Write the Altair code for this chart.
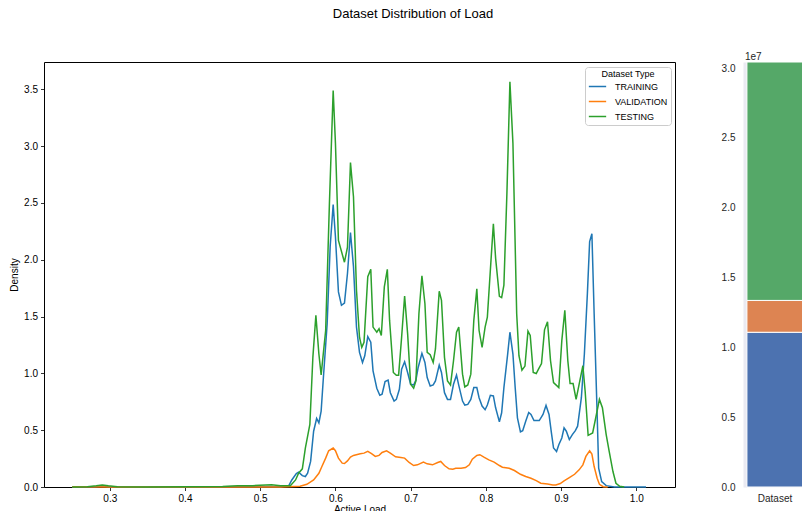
import altair as alt
import pandas as pd

# ---- data -------------------------------------------------------------
splits = ["TRAINING", "VALIDATION", "TESTING"]
line_colors = ["#1f77b4", "#ff7f0e", "#2ca02c"]
bar_colors = ["#4c72b0", "#dd8452", "#55a868"]

# Kernel density of "Active Load" per dataset split
train_load = [
    0.250, 0.280, 0.290, 0.300, 0.350, 0.450, 0.500, 0.527, 0.538, 0.542,
    0.548, 0.551, 0.556, 0.560, 0.563, 0.567, 0.571, 0.575, 0.578, 0.581,
    0.584, 0.589, 0.593, 0.597, 0.600, 0.604, 0.608, 0.612, 0.616, 0.620,
    0.624, 0.628, 0.632, 0.636, 0.639, 0.643, 0.647, 0.650, 0.655, 0.659,
    0.662, 0.666, 0.670, 0.673, 0.678, 0.681, 0.685, 0.688, 0.692, 0.696,
    0.700, 0.704, 0.707, 0.710, 0.715, 0.719, 0.722, 0.726, 0.730, 0.733,
    0.738, 0.741, 0.745, 0.749, 0.753, 0.757, 0.761, 0.764, 0.769, 0.772,
    0.776, 0.780, 0.784, 0.788, 0.791, 0.795, 0.799, 0.802, 0.806, 0.810,
    0.813, 0.818, 0.821, 0.824, 0.829, 0.832, 0.836, 0.839, 0.842, 0.846,
    0.849, 0.853, 0.857, 0.860, 0.864, 0.871, 0.876, 0.880, 0.884, 0.887,
    0.890, 0.894, 0.897, 0.901, 0.904, 0.907, 0.911, 0.915, 0.919, 0.922,
    0.927, 0.931, 0.935, 0.938, 0.941, 0.944, 0.948, 0.950, 0.954, 0.960,
    0.971, 1.013,
]
train_density = [
    0.000, 0.003, 0.008, 0.003, 0.001, 0.002, 0.004, 0.002, 0.012, 0.062,
    0.118, 0.130, 0.100, 0.092, 0.121, 0.225, 0.491, 0.603, 0.564, 0.668,
    0.963, 1.436, 2.116, 2.485, 2.204, 1.717, 1.599, 1.619, 1.879, 2.240,
    1.939, 1.407, 1.185, 1.096, 1.155, 1.324, 1.274, 1.022, 0.869, 0.807,
    0.816, 0.928, 0.940, 0.830, 0.756, 0.771, 0.860, 1.037, 1.102, 1.008,
    0.904, 0.898, 0.940, 1.052, 1.176, 1.096, 0.963, 0.889, 0.898, 0.934,
    1.073, 1.008, 0.830, 0.771, 0.771, 0.904, 0.984, 0.895, 0.756, 0.721,
    0.727, 0.771, 0.875, 0.875, 0.786, 0.712, 0.680, 0.721, 0.807, 0.801,
    0.697, 0.573, 0.653, 0.875, 1.170, 1.362, 1.170, 0.875, 0.609, 0.485,
    0.496, 0.579, 0.656, 0.638, 0.585, 0.585, 0.638, 0.718, 0.638, 0.485,
    0.343, 0.313, 0.372, 0.431, 0.520, 0.491, 0.417, 0.461, 0.496, 0.535,
    0.786, 1.170, 1.702, 2.160, 2.228, 1.525, 0.638, 0.165, 0.047, 0.012,
    0.000, 0.000,
]

val_load = [
    0.250, 0.300, 0.400, 0.500, 0.527, 0.553, 0.562, 0.571, 0.578, 0.582,
    0.587, 0.591, 0.597, 0.600, 0.604, 0.609, 0.612, 0.616, 0.620, 0.624,
    0.633, 0.638, 0.643, 0.648, 0.653, 0.658, 0.662, 0.668, 0.673, 0.680,
    0.687, 0.692, 0.698, 0.704, 0.709, 0.717, 0.722, 0.729, 0.736, 0.740,
    0.745, 0.751, 0.756, 0.760, 0.767, 0.773, 0.778, 0.782, 0.788, 0.792,
    0.798, 0.804, 0.811, 0.818, 0.822, 0.831, 0.838, 0.846, 0.853, 0.860,
    0.867, 0.873, 0.882, 0.889, 0.893, 0.899, 0.904, 0.911, 0.918, 0.924,
    0.929, 0.933, 0.938, 0.941, 0.944, 0.948, 0.951, 0.956, 0.962,
]
val_density = [
    0.002, 0.001, 0.000, 0.000, 0.000, 0.006, 0.024, 0.062, 0.121, 0.180,
    0.254, 0.319, 0.343, 0.319, 0.254, 0.210, 0.207, 0.230, 0.263, 0.278,
    0.293, 0.298, 0.313, 0.293, 0.269, 0.278, 0.304, 0.319, 0.298, 0.266,
    0.260, 0.254, 0.216, 0.189, 0.195, 0.219, 0.204, 0.195, 0.216, 0.225,
    0.189, 0.160, 0.157, 0.165, 0.165, 0.171, 0.195, 0.245, 0.278, 0.284,
    0.260, 0.239, 0.219, 0.189, 0.174, 0.165, 0.145, 0.112, 0.092, 0.077,
    0.056, 0.033, 0.027, 0.018, 0.018, 0.030, 0.053, 0.083, 0.112, 0.151,
    0.195, 0.269, 0.319, 0.290, 0.180, 0.077, 0.024, 0.003, 0.000,
]

test_load = [
    0.250, 0.270, 0.282, 0.290, 0.298, 0.310, 0.350, 0.400, 0.450, 0.470,
    0.490, 0.515, 0.527, 0.540, 0.547, 0.551, 0.556, 0.560, 0.566, 0.570,
    0.574, 0.578, 0.581, 0.587, 0.592, 0.597, 0.600, 0.604, 0.612, 0.616,
    0.620, 0.624, 0.628, 0.632, 0.635, 0.638, 0.643, 0.647, 0.650, 0.655,
    0.658, 0.661, 0.665, 0.669, 0.672, 0.677, 0.681, 0.684, 0.688, 0.692,
    0.696, 0.700, 0.704, 0.707, 0.711, 0.715, 0.719, 0.722, 0.726, 0.730,
    0.733, 0.738, 0.741, 0.745, 0.749, 0.753, 0.757, 0.761, 0.764, 0.769,
    0.772, 0.776, 0.780, 0.784, 0.788, 0.791, 0.795, 0.799, 0.802, 0.806,
    0.810, 0.813, 0.818, 0.821, 0.824, 0.828, 0.832, 0.836, 0.841, 0.844,
    0.848, 0.852, 0.856, 0.859, 0.863, 0.867, 0.870, 0.874, 0.878, 0.882,
    0.886, 0.890, 0.897, 0.901, 0.905, 0.909, 0.912, 0.916, 0.920, 0.924,
    0.929, 0.932, 0.936, 0.942, 0.947, 0.951, 0.955, 0.960, 0.964, 0.969,
    0.973, 0.978, 0.984,
]
test_density = [
    0.000, 0.002, 0.010, 0.018, 0.010, 0.002, 0.001, 0.002, 0.004, 0.010,
    0.012, 0.020, 0.010, 0.012, 0.062, 0.121, 0.160, 0.343, 0.550, 1.141,
    1.510, 1.170, 0.987, 1.377, 2.494, 3.490, 3.026, 2.170, 1.978, 2.110,
    2.855, 2.554, 1.732, 1.318, 1.229, 1.274, 1.850, 1.915, 1.407, 1.362,
    1.392, 1.333, 1.761, 1.915, 1.466, 1.008, 0.984, 0.984, 1.318, 1.681,
    1.348, 0.904, 0.869, 0.934, 1.525, 1.859, 1.613, 1.185, 1.164, 1.096,
    1.215, 1.723, 1.643, 1.141, 0.934, 0.898, 1.111, 1.362, 1.407, 0.993,
    0.881, 0.898, 0.993, 1.466, 1.744, 1.377, 1.229, 1.407, 1.495, 1.909,
    2.317, 2.012, 1.678, 1.667, 1.776, 2.584, 3.565, 3.026, 1.525, 1.155,
    1.028, 1.064, 1.371, 1.333, 1.008, 0.999, 1.037, 1.087, 1.383, 1.454,
    1.111, 0.919, 0.875, 1.288, 1.554, 1.111, 0.910, 0.910, 0.771, 0.904,
    1.067, 0.845, 0.455, 0.476, 0.638, 0.771, 0.697, 0.461, 0.313, 0.136,
    0.033, 0.006, 0.000,
]

# Row counts per split (stacked bar)
split_rows = [1.108e7, 0.228e7, 1.707e7]

x_ticks = [0.3, 0.4, 0.5, 0.6, 0.7, 0.8, 0.9, 1.0]
y_ticks = [0.0, 0.5, 1.0, 1.5, 2.0, 2.5, 3.0, 3.5]
bar_ticks = [0, 5e6, 1e7, 1.5e7, 2e7, 2.5e7, 3e7]

# ---- tables -----------------------------------------------------------
frames = []
for name, xs, ys in zip(splits, [train_load, val_load, test_load],
                        [train_density, val_density, test_density]):
    frames.append(pd.DataFrame({"load": xs, "density": ys, "split": name}))
kde = pd.concat(frames, ignore_index=True)

bar_df = pd.DataFrame({
    "group": ["Dataset"] * 3,
    "split": splits,
    "rows": split_rows,
    "rank": [0, 1, 2],
})
bar_top = sum(split_rows)

FONT = "Liberation Sans"

# ---- left panel: density curves --------------------------------------
lines = alt.Chart(kde).mark_line(strokeWidth=1.5).encode(
    x=alt.X(
        "load:Q",
        scale=alt.Scale(domain=[0.2125, 1.0515], nice=False, zero=False),
        axis=alt.Axis(
            title="Active Load", values=x_ticks, format=".1f", grid=False,
            domain=False, tickSize=3.5, tickColor="#000", tickWidth=0.8,
            labelPadding=3, labelFontSize=10, labelColor="#000",
            titleFontSize=10, titleFontWeight="normal", titleColor="#000",
            titlePadding=1, labelFont=FONT, titleFont=FONT,
        ),
    ),
    y=alt.Y(
        "density:Q",
        scale=alt.Scale(domain=[0, 3.74], nice=False),
        axis=alt.Axis(
            title="Density", values=y_ticks, format=".1f", grid=False,
            domain=False, tickSize=3.5, tickColor="#000", tickWidth=0.8,
            labelPadding=3, labelFontSize=10, labelColor="#000",
            titleFontSize=10, titleFontWeight="normal", titleColor="#000",
            titlePadding=4, labelFont=FONT, titleFont=FONT,
        ),
    ),
    color=alt.Color(
        "split:N",
        sort=splits,
        scale=alt.Scale(domain=splits, range=line_colors),
        legend=alt.Legend(
            title="Dataset Type", orient="none", legendX=541, legendY=5,
            symbolType="stroke", symbolSize=300, symbolStrokeWidth=1.5,
            labelFontSize=9, titleFontSize=9, titleFontWeight="normal",
            labelFont=FONT, titleFont=FONT, labelColor="#000",
            titleColor="#000", titleAnchor="middle", titleAlign="center",
            padding=3, rowPadding=0, labelOffset=8, titlePadding=-2,
            strokeColor="#cccccc", fillColor="white", cornerRadius=3,
        ),
    ),
)

title_mark = alt.Chart(pd.DataFrame({"text": ["Dataset Distribution of Load"]})).mark_text(
    fontSize=13, font=FONT, align="center", baseline="middle", color="#000"
).encode(x=alt.value(369), y=alt.value(-48), text="text:N")

left = alt.layer(lines, title_mark).properties(
    width=631, height=425,
    view=alt.ViewBackground(stroke="#000", strokeWidth=1, fill="white"),
)

# ---- right panel: stacked bar of rows per split ------------------------
bars = alt.Chart(bar_df).mark_bar(stroke="white", strokeWidth=1).encode(
    x=alt.X(
        "group:N",
        scale=alt.Scale(paddingInner=0, paddingOuter=0.07),
        axis=alt.Axis(
            title=None, labelAngle=0, ticks=False, domain=False,
            labelPadding=6, labelFontSize=10, labelColor="#262626",
            labelFont=FONT,
        ),
    ),
    y=alt.Y(
        "rows:Q",
        stack="zero",
        scale=alt.Scale(domain=[0, bar_top], nice=False),
        axis=alt.Axis(
            title=None, values=bar_ticks, ticks=False, domain=False,
            grid=False, labelExpr="format(datum.value / 1e7, '.1f')",
            labelPadding=8, labelFontSize=10, labelColor="#262626",
            labelFont=FONT,
        ),
    ),
    color=alt.Color(
        "split:N",
        scale=alt.Scale(domain=splits, range=bar_colors),
        legend=None,
    ),
    order=alt.Order("rank:Q"),
)

offset_text = alt.Chart(pd.DataFrame({"text": ["1e7"]})).mark_text(
    fontSize=10, font=FONT, align="left", baseline="middle", color="#262626"
).encode(x=alt.value(2), y=alt.value(-5), text="text:N")

right = alt.layer(bars, offset_text).properties(
    width=64, height=425,
    view=alt.ViewBackground(stroke="transparent", fill="#eaeaf2"),
)

chart = alt.hconcat(left, right, spacing=68, bounds="flush").resolve_scale(
    color="independent"
).properties(
    autosize=alt.AutoSizeParams(type="none"),
    padding={"left": 44, "top": 62, "right": 758, "bottom": 449},
    background="white",
)

chart.save("out.html", embed_options={"renderer": "svg", "actions": False})
